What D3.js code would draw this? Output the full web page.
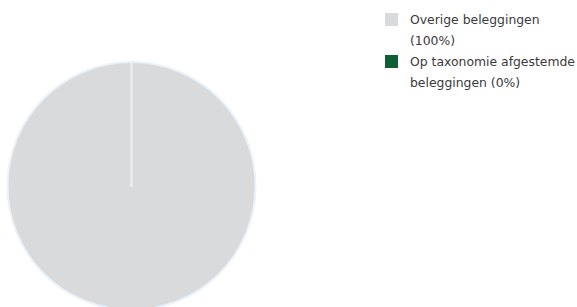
<!DOCTYPE html>
<html><head><meta charset="utf-8">
<script src="https://cdn.jsdelivr.net/npm/d3@7/dist/d3.min.js"></script>
<style>body{margin:0;background:#fff;}svg{display:block;}</style>
</head><body>
<script>
const categories = ["Overige beleggingen (100%)", "Op taxonomie afgestemde beleggingen (0%)"];
const legendLines = [["Overige beleggingen", "(100%)"], ["Op taxonomie afgestemde", "beleggingen (0%)"]];
const values = [100, 0];
const colors = ["#d9dadc", "#0e5e36"];

const W = 577, H = 307;
const svg = d3.select("body").append("svg").attr("width", W).attr("height", H);
const cx = 131.5, cy = 186, r = 124;
const pie = d3.pie().sort(null).value(d => d)(values);
const arc = d3.arc().innerRadius(0).outerRadius(r);
const color = d3.scaleOrdinal().domain(categories).range(colors);
svg.append("g").attr("transform", `translate(${cx},${cy})`)
  .selectAll("path").data(pie).join("path")
  .attr("d", arc)
  .attr("fill", (d, i) => color(categories[i]))
  .attr("stroke", "#eaf3f9").attr("stroke-width", 2).attr("stroke-linejoin", "round");

const lg = svg.append("g").attr("transform", "translate(385,13)");
const item = lg.selectAll("g").data(categories).join("g")
  .attr("transform", (d, i) => `translate(0,${i * 42})`);
item.append("rect").attr("width", 13).attr("height", 13).attr("fill", d => color(d));
item.append("text").attr("x", 25).attr("y", 11)
  .attr("font-family", "DejaVu Sans").attr("font-size", 12.4).attr("fill", "#3a3a3a")
  .selectAll("tspan").data((d, i) => legendLines[i]).join("tspan")
  .attr("x", 25).attr("dy", (d, j) => j === 0 ? 0 : 21).text(d => d);
</script>
</body></html>
